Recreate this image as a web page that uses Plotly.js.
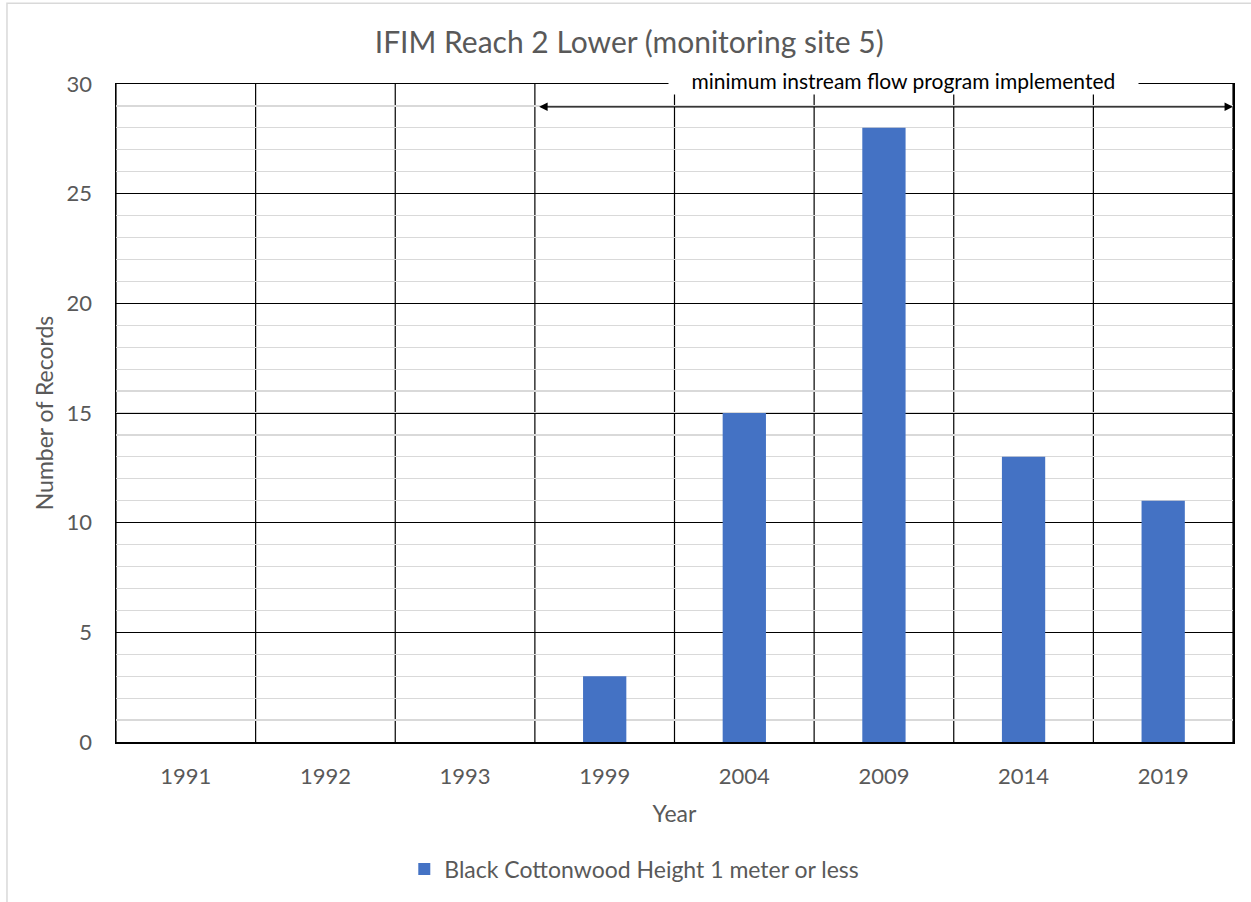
<!DOCTYPE html>
<html>
<head>
<meta charset="utf-8">
<script src="https://cdn.plot.ly/plotly-3.0.1.min.js"></script>
<style>html,body{margin:0;padding:0;background:#fff;}#chart{width:1251px;height:902px;}</style>
</head>
<body>
<div id="chart"></div>
<script>
const years = ['1991','1992','1993','1999','2004','2009','2014','2019'];
const records = [0, 0, 0, 3, 15, 28, 13, 11];
const seriesName = 'Black Cottonwood Height 1 meter or less';
const chartTitle = 'IFIM Reach 2 Lower (monitoring site 5)';
const noteText = 'minimum instream flow program implemented';
const yTicks = [0, 5, 10, 15, 20, 25, 30];

const fontFam = 'Lato, "Open Sans", sans-serif';
const gray = '#595959';

const trace = {
  type: 'bar',
  x: years,
  y: records,
  name: seriesName,
  marker: {color: '#4472C4'},
  width: 0.31,
  showlegend: true
};

// vertical separators between categories
const shapes = [];
for (let k = 0; k <= years.length; k++) {
  shapes.push({type: 'line', xref: 'x', yref: 'paper', x0: k - 0.5, x1: k - 0.5, y0: 0, y1: 1,
    line: {color: '#000', width: 1.2}, layer: 'below'});
}
// outer chart border
shapes.push({type: 'rect', xref: 'paper', yref: 'paper', x0: -0.0976, x1: 1.2, y0: -0.4, y1: 1.1227,
  line: {color: '#d9d9d9', width: 1.5}, fillcolor: 'rgba(0,0,0,0)'});

const pad = '&nbsp;&nbsp;&nbsp;&nbsp;';

const layout = {
  width: 1251, height: 902,
  margin: {l: 116, r: 18, t: 84, b: 158},
  paper_bgcolor: '#fff', plot_bgcolor: '#fff',
  font: {family: fontFam, color: gray, size: 22},
  title: {text: chartTitle, font: {family: fontFam, size: 30, color: gray}, x: 0.503, xanchor: 'center', y: 0.953, yanchor: 'middle'},
  xaxis: {
    type: 'category', range: [-0.5, 7.5],
    showgrid: false, zeroline: false,
    showline: true, linecolor: '#000', linewidth: 1.5, mirror: true,
    ticks: '', ticklabelstandoff: 14,
    tickfont: {family: fontFam, size: 22, color: gray},
    title: {text: 'Year', font: {family: fontFam, size: 23, color: gray}, standoff: 18}
  },
  yaxis: {
    range: [0, 30], tickvals: yTicks, ticktext: yTicks.map(String),
    showgrid: true, gridcolor: '#000', gridwidth: 1,
    minor: {dtick: 1, tick0: 0, showgrid: true, gridcolor: '#d9d9d9', gridwidth: 1.2, ticks: ''},
    zeroline: false,
    showline: true, linecolor: '#000', linewidth: 1.5, mirror: true,
    ticks: '', ticklabelstandoff: 18,
    tickfont: {family: fontFam, size: 22, color: gray},
    title: {text: 'Number of Records', font: {family: fontFam, size: 23, color: gray}, standoff: 6}
  },
  legend: {orientation: 'h', x: 0.464, xanchor: 'center', y: -0.193, yanchor: 'middle',
    font: {family: fontFam, size: 23, color: gray}, bgcolor: 'rgba(0,0,0,0)'},
  shapes: shapes,
  annotations: [
    {xref: 'x', yref: 'y', x: 7.5, y: 28.96, axref: 'x', ayref: 'y', ax: 2.52, ay: 28.96,
      text: '', showarrow: true, arrowhead: 2, arrowside: 'end+start', arrowsize: 1.3, arrowwidth: 1.3, arrowcolor: '#000'},
    {xref: 'paper', yref: 'paper', x: 0.7046, y: 1.006, text: pad + noteText + pad, showarrow: false,
      bgcolor: '#fff', borderpad: 1, font: {family: fontFam, size: 21, color: '#000'}, yanchor: 'middle', xanchor: 'center'}
  ]
};

Plotly.newPlot('chart', [trace], layout, {displayModeBar: false, staticPlot: true});
</script>
</body>
</html>
